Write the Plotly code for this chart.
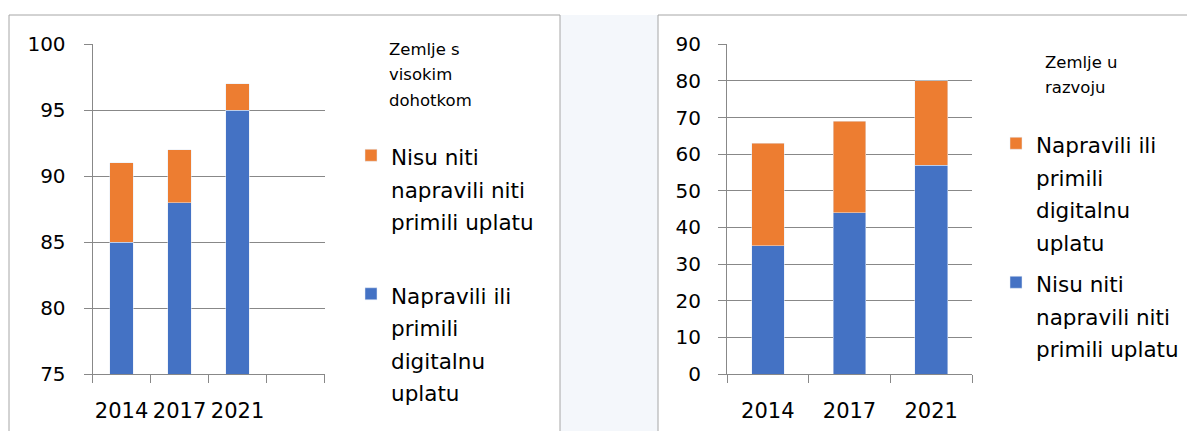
import plotly.graph_objects as go

# ---- data ----
years = ["2014", "2017", "2021"]

# high-income countries (left panel)
hi_digital = [85, 88, 95]          # Napravili ili primili digitalnu uplatu
hi_none = [6, 4, 2]                # Nisu niti napravili niti primili uplatu (stacked on top)

# developing countries (right panel)
dev_none = [35, 44, 57]            # Nisu niti napravili niti primili uplatu
dev_digital = [28, 25, 23]         # Napravili ili primili digitalnu uplatu (stacked on top)

left_ticks = [75, 80, 85, 90, 95, 100]
right_ticks = [0, 10, 20, 30, 40, 50, 60, 70, 80, 90]

lbl_none = "Nisu niti<br>napravili niti<br>primili uplatu"
lbl_digital = "Napravili ili<br>primili<br>digitalnu<br>uplatu"
title_left = "Zemlje s<br>visokim<br>dohotkom"
title_right = "Zemlje u<br>razvoju"

BLUE = "#4472C4"
ORANGE = "#ED7D31"
GRID = "#888888"
FONT = "DejaVu Sans, sans-serif"
W, H = 1195, 431
OFF = 8  # page body margin offset


def px_x(x):
    return (x - OFF) / W


def px_y(y):
    return (H - (y - OFF)) / H


def span(t, size):
    return "<br>".join(f"<span style='font-size:{size}px'>{p}</span>" for p in t.split("<br>"))


LEG = 21.5
fig = go.Figure()

fig.add_trace(go.Bar(x=years, y=hi_digital, name=span(lbl_digital, LEG), marker_color=BLUE,
                     width=0.4, xaxis="x", yaxis="y", legend="legend", legendgroup="a",
                     legendrank=2))
fig.add_trace(go.Bar(x=years, y=hi_none, name=span(lbl_none, LEG), marker_color=ORANGE,
                     width=0.4, xaxis="x", yaxis="y", legend="legend", legendgroup="b",
                     legendrank=1))
fig.add_trace(go.Bar(x=years, y=dev_none, name=span(lbl_none, LEG), marker_color=BLUE,
                     width=0.4, xaxis="x2", yaxis="y2", legend="legend2", legendgroup="c",
                     legendrank=2))
fig.add_trace(go.Bar(x=years, y=dev_digital, name=span(lbl_digital, LEG), marker_color=ORANGE,
                     width=0.4, xaxis="x2", yaxis="y2", legend="legend2", legendgroup="d",
                     legendrank=1))

ydom = [px_y(374), px_y(44.3)]
axis_common = dict(showline=True, linecolor=GRID, linewidth=1, ticks="outside",
                   ticklen=8, tickcolor=GRID, zeroline=False, automargin=False, tickangle=0)
xfont = dict(size=21, color="#000000")
yfont = dict(size=20, color="#000000")

fig.update_layout(
    width=W, height=H,
    margin=dict(l=0, r=0, t=0, b=0, autoexpand=False),
    paper_bgcolor="white", plot_bgcolor="rgba(0,0,0,0)",
    font=dict(family=FONT, color="#000000"),
    barmode="stack",
    xaxis=dict(domain=[px_x(92.6), px_x(324.5)], type="category",
               categoryorder="array", categoryarray=years + [" "], range=[-0.5, 3.5],
               tickson="boundaries", showgrid=False, ticklabelstandoff=18,
               tickfont=xfont, **axis_common),
    yaxis=dict(domain=ydom, range=[75, 100], tickvals=left_ticks, showgrid=True,
               gridcolor=GRID, gridwidth=1, ticklabelstandoff=14, tickfont=yfont,
               **axis_common),
    xaxis2=dict(domain=[px_x(727), px_x(972)], type="category", anchor="y2",
                categoryorder="array", categoryarray=years, range=[-0.5, 2.5],
                tickson="boundaries", showgrid=False, ticklabelstandoff=18,
                tickfont=xfont, **axis_common),
    yaxis2=dict(domain=ydom, range=[0, 90], tickvals=right_ticks, anchor="x2",
                showgrid=True, gridcolor=GRID, gridwidth=1, ticklabelstandoff=13,
                tickfont=yfont, **axis_common),
    legend=dict(x=px_x(351), y=px_y(132.5), xanchor="left", yanchor="top",
                font=dict(size=25, family=FONT), traceorder="grouped",
                tracegroupgap=38, valign="top", bgcolor="rgba(0,0,0,0)"),
    legend2=dict(x=px_x(996), y=px_y(120.5), xanchor="left", yanchor="top",
                 font=dict(size=25, family=FONT), traceorder="grouped",
                 tracegroupgap=6, valign="top", bgcolor="rgba(0,0,0,0)"),
    shapes=[
        dict(type="rect", xref="paper", yref="paper", x0=px_x(560), x1=px_x(658),
             y0=px_y(450), y1=px_y(15), fillcolor="#F4F7FB", line=dict(width=0), layer="below"),
        dict(type="rect", xref="paper", yref="paper", x0=px_x(9), x1=px_x(560),
             y0=px_y(450), y1=px_y(15), fillcolor="rgba(0,0,0,0)",
             line=dict(color="#A6A6A6", width=1), layer="below"),
        dict(type="rect", xref="paper", yref="paper", x0=px_x(658), x1=px_x(1215),
             y0=px_y(450), y1=px_y(15), fillcolor="rgba(0,0,0,0)",
             line=dict(color="#A6A6A6", width=1), layer="below"),
    ],
    annotations=[
        dict(text=span(title_left, 16.5), x=px_x(387), y=px_y(75.5),
             xref="paper", yref="paper", xanchor="left", yanchor="middle", align="left",
             showarrow=False, font=dict(size=19.6, family=FONT)),
        dict(text=span(title_right, 16.5), x=px_x(1043), y=px_y(75),
             xref="paper", yref="paper", xanchor="left", yanchor="middle", align="left",
             showarrow=False, font=dict(size=19.6, family=FONT)),
    ],
)

fig.write_html("out.html")
